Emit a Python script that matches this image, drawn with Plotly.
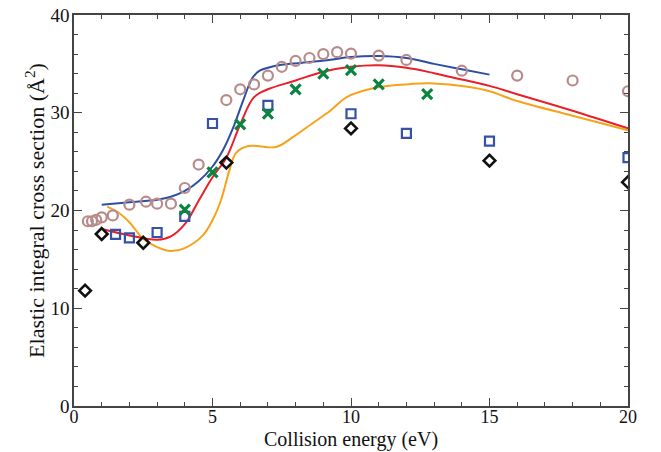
import plotly.graph_objects as go

# Experimental data sets
circ_x = [0.5, 0.65, 0.8, 1.0, 1.4, 2.0, 2.6, 3.0, 3.5, 4.0, 4.5, 5.5, 6.0, 6.5, 7.0, 7.5, 8.0, 8.5, 9.0, 9.5, 10.0, 11.0, 12.0, 14.0, 16.0, 18.0, 20.0]
circ_y = [18.9, 18.9, 19.05, 19.3, 19.5, 20.6, 20.9, 20.7, 20.7, 22.3, 24.7, 31.3, 32.4, 32.9, 33.8, 34.7, 35.3, 35.6, 36.0, 36.2, 36.05, 35.85, 35.4, 34.3, 33.8, 33.3, 32.2]

sq_x = [1.5, 2.0, 3.0, 4.0, 5.0, 7.0, 10.0, 12.0, 15.0, 20.0]
sq_y = [17.55, 17.2, 17.75, 19.4, 28.9, 30.75, 29.9, 27.9, 27.1, 25.4]

dia_x = [0.4, 1.0, 2.5, 5.5, 10.0, 15.0, 20.0]
dia_y = [11.8, 17.6, 16.7, 24.9, 28.4, 25.1, 22.9]

cross_x = [4.0, 5.0, 6.0, 7.0, 8.0, 9.0, 10.0, 11.0, 12.75]
cross_y = [20.1, 23.9, 28.8, 29.9, 32.4, 34.0, 34.35, 32.9, 31.9]

# Theory curves
blue_x = [1.0, 2.0, 3.0, 3.5, 4.0, 4.5, 5.0, 5.4, 5.75, 6.1, 6.45, 6.7, 7.0, 7.5, 8.2, 9.2, 10.0, 11.0, 12.0, 13.0, 14.0, 15.0]
blue_y = [20.6, 20.85, 21.1, 21.4, 22.0, 23.0, 24.5, 26.3, 28.5, 31.2, 33.6, 34.3, 34.6, 34.9, 35.1, 35.4, 35.7, 35.8, 35.6, 35.0, 34.45, 33.9]

red_x = [1.0, 2.0, 3.0, 3.5, 4.0, 4.5, 5.0, 5.5, 6.0, 6.5, 7.0, 8.0, 9.0, 10.0, 11.0, 12.0, 13.0, 14.0, 15.0, 16.0, 18.0, 20.0]
red_y = [18.1, 17.45, 17.0, 17.35, 18.6, 21.0, 23.4, 25.4, 28.8, 31.6, 32.4, 33.3, 34.2, 34.7, 34.85, 34.6, 34.05, 33.4, 32.75, 31.9, 30.2, 28.4]

orange_x = [1.2, 1.6, 2.0, 2.5, 3.0, 3.5, 4.0, 4.65, 5.0, 5.3, 5.6, 5.85, 6.3, 7.3, 7.9, 8.6, 9.25, 9.85, 10.8, 12.0, 13.0, 14.2, 15.0, 16.0, 18.0, 20.0]
orange_y = [20.4, 19.8, 18.8, 17.1, 16.25, 15.85, 16.15, 17.45, 19.0, 21.0, 24.0, 25.9, 26.6, 26.5, 27.5, 28.9, 30.2, 31.6, 32.5, 32.9, 33.0, 32.65, 32.2, 31.2, 29.7, 28.2]

x_ticks = [0, 5, 10, 15, 20]
y_ticks = [0, 10, 20, 30, 40]
x_title = "Collision energy (eV)"
y_title = "Elastic integral cross section (Å<sup>2</sup>)"

fig = go.Figure()
fig.add_trace(go.Scatter(x=orange_x, y=orange_y, mode="lines", line=dict(color="#f7a21b", width=2), line_shape="spline"))
fig.add_trace(go.Scatter(x=red_x, y=red_y, mode="lines", line=dict(color="#e8202a", width=2), line_shape="spline"))
fig.add_trace(go.Scatter(x=blue_x, y=blue_y, mode="lines", line=dict(color="#2d4fa3", width=2), line_shape="spline"))
fig.add_trace(go.Scatter(x=circ_x, y=circ_y, mode="markers",
                         marker=dict(symbol="circle-open", size=10, color="#b98a8a", line=dict(width=2.2, color="#b98a8a"))))
fig.add_trace(go.Scatter(x=sq_x, y=sq_y, mode="markers",
                         marker=dict(symbol="square-open", size=9, color="#3552a6", line=dict(width=2.2, color="#3552a6"))))
fig.add_trace(go.Scatter(x=dia_x, y=dia_y, mode="markers",
                         marker=dict(symbol="diamond-open", size=9, color="#111111", line=dict(width=2.6, color="#111111"))))
fig.add_trace(go.Scatter(x=cross_x, y=cross_y, mode="markers",
                         marker=dict(symbol="x-thin", size=10, color="#0b8440", line=dict(width=3.2, color="#0b8440"))))

axis_common = dict(
    showgrid=False, zeroline=False, showline=True, linecolor="#444444", linewidth=1.5,
    mirror="ticks", ticks="inside", ticklen=8, tickwidth=1.3, tickcolor="#444444",
    tickfont=dict(family="Liberation Serif", size=19, color="#111111"),
    automargin=False,
)

fig.update_xaxes(range=[0, 20], tickvals=x_ticks, ticktext=[str(v) for v in x_ticks],
                 minor=dict(dtick=1, ticks="inside", ticklen=4, tickwidth=1.2, tickcolor="#444444"),
                 ticklabelstandoff=-6, tickfont=dict(family="Liberation Serif", size=18, color="#111111"),
                 **{k: v for k, v in axis_common.items() if k != "tickfont"})
fig.update_yaxes(range=[0, 40], tickvals=y_ticks, ticktext=[str(v) for v in y_ticks],
                 minor=dict(dtick=2, ticks="inside", ticklen=4, tickwidth=1.2, tickcolor="#444444"),
                 title=dict(text=y_title, font=dict(family="Liberation Serif", size=22, color="#111111"), standoff=0),
                 ticklabelstandoff=-1,
                 **axis_common)

fig.add_annotation(text=x_title, xref="paper", yref="paper", x=0.5, y=-0.117,
                   xanchor="center", yanchor="bottom", showarrow=False, borderpad=0,
                   font=dict(family="Liberation Serif", size=20, color="#111111"))

fig.update_layout(
    width=661, height=452, showlegend=False,
    margin=dict(l=74, r=33, t=15, b=46),
    plot_bgcolor="white", paper_bgcolor="white",
)

fig.write_html("out.html")
